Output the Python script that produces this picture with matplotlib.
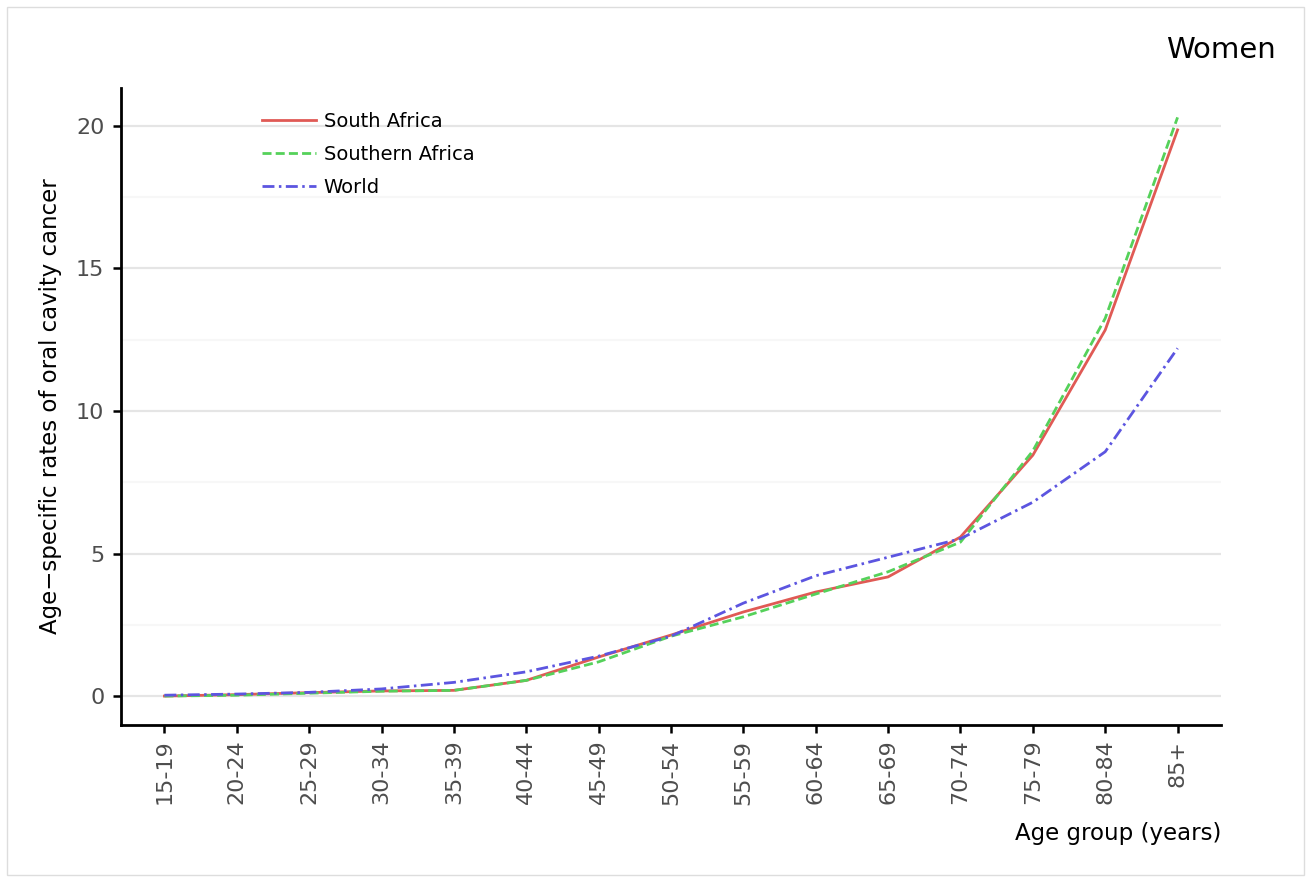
import matplotlib
matplotlib.use("Agg")
import matplotlib.pyplot as plt
from matplotlib.patches import Rectangle

plt.rcParams["font.family"] = ["DejaVu Sans"]
plt.rcParams["lines.scale_dashes"] = False

age_groups = ["15-19", "20-24", "25-29", "30-34", "35-39", "40-44", "45-49",
              "50-54", "55-59", "60-64", "65-69", "70-74", "75-79", "80-84", "85+"]
south_africa = [0.0, 0.05, 0.12, 0.18, 0.2, 0.55, 1.37, 2.14, 2.95, 3.65, 4.18, 5.58, 8.45, 12.84, 19.86]
southern_africa = [0.0, 0.03, 0.1, 0.17, 0.2, 0.55, 1.2, 2.1, 2.78, 3.58, 4.36, 5.4, 8.6, 13.25, 20.3]
world = [0.03, 0.07, 0.13, 0.25, 0.48, 0.85, 1.4, 2.1, 3.26, 4.22, 4.87, 5.52, 6.8, 8.57, 12.2]

W, H = 1309, 877
fig = plt.figure(figsize=(W / 100, H / 100), dpi=100)
fig.patch.set_facecolor("white")
fig.patches.append(Rectangle((7 / W, 2 / H), (1304 - 7) / W, (870 - 2) / H,
                             transform=fig.transFigure, fill=False,
                             edgecolor="#dddddd", linewidth=1.0))

left, right, top, bottom = 121, 1221, 88, 725
ax = fig.add_axes([left / W, 1 - bottom / H, (right - left) / W, (bottom - top) / H])

x = list(range(len(age_groups)))
ax.plot(x, south_africa, color="#e05a55", linestyle="-", linewidth=2.0, label="South Africa")
ax.plot(x, southern_africa, color="#55d15a", linestyle=(0, (6.5, 3.0)), linewidth=2.0,
        label="Southern Africa")
ax.plot(x, world, color="#5c55e0", linestyle=(0, (8.6, 3.2, 1.8, 3.2)), linewidth=2.0,
        label="World")

ax.set_xlim(-0.6, len(age_groups) - 1 + 0.6)
ax.set_ylim(-1.015, 21.33)
ax.set_xticks(x)
ax.set_xticklabels(age_groups, rotation=90, color="#4d4d4d", fontsize=16)
ax.set_yticks([0, 5, 10, 15, 20])
ax.set_yticklabels(["0", "5", "10", "15", "20"], color="#4d4d4d", fontsize=16)
ax.set_yticks([2.5, 7.5, 12.5, 17.5], minor=True)
ax.tick_params(axis="y", which="minor", length=0)
ax.tick_params(axis="both", which="major", length=5.5, width=1.8, color="black")
ax.tick_params(axis="x", which="major", pad=5)
ax.tick_params(axis="y", which="major", pad=6.5)

ax.grid(True, axis="y", which="major", color="#e5e5e5", linewidth=1.6)
ax.grid(True, axis="y", which="minor", color="#f7f7f7", linewidth=1.6)
ax.set_axisbelow(True)

for s in ["top", "right"]:
    ax.spines[s].set_visible(False)
for s in ["left", "bottom"]:
    ax.spines[s].set_linewidth(2.0)
    ax.spines[s].set_color("black")

ax.set_ylabel("Age\u2212specific rates of oral cavity cancer", fontsize=16.5, labelpad=10)
ax.set_xlabel("Age group (years)", fontsize=16.5, loc="right", labelpad=12.5)

leg = ax.legend(loc="upper left", bbox_to_anchor=(0.1209, 0.975), borderaxespad=0,
                frameon=False, fontsize=14, handlelength=2.78, handletextpad=0.41,
                labelspacing=0.72, borderpad=0.4)

fig.text(1276 / W, 1 - 50 / H, "Women", ha="right", va="center", fontsize=21)

fig.savefig("out.png", dpi=100, facecolor="white")
